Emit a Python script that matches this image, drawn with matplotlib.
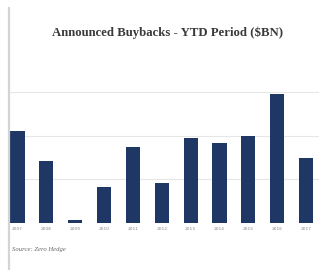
import matplotlib.pyplot as plt
from matplotlib.lines import Line2D

# =====================
# DATA
# =====================
years = ["2007", "2008", "2009", "2010", "2011", "2012",
         "2013", "2014", "2015", "2016", "2017"]
buybacks = [210, 142, 7, 82, 174, 92, 195, 183, 199, 295, 149]
title = "Announced Buybacks - YTD Period ($BN)"
source = "Source: Zero Hedge"

BAR_COLOR = "#1f3765"
GRID_COLOR = "#e6e6e6"

# =====================
# PLOT
# =====================
fig = plt.figure(figsize=(3.19, 2.70), dpi=100)
fig.patch.set_facecolor("white")

ax = fig.add_axes([10 / 319, 1 - 223 / 270, 309 / 319, 175 / 270])
x = range(len(years))
ax.bar(x, buybacks, width=0.49, color=BAR_COLOR, zorder=3)

ax.set_xlim(-0.26, 10.45)
ax.set_ylim(0, 400)
ax.set_yticks([100, 200, 300])
ax.yaxis.grid(True, color=GRID_COLOR, linewidth=0.8, zorder=0)
ax.tick_params(axis="y", left=False, labelleft=False)
ax.tick_params(axis="x", length=0, pad=3, labelsize=3.2, labelcolor="#8a8a8a")
ax.set_xticks(list(x))
ax.set_xticklabels(years)
for s in ax.spines.values():
    s.set_visible(False)

# title
fig.text(168 / 319, 1 - 33 / 270, title, ha="center", va="center",
         family="Liberation Serif", fontweight="bold", fontsize=9.2,
         color="#3a3a3a")

# source note
fig.text(12 / 319, 1 - 250 / 270, source, ha="left", va="center",
         family="Liberation Serif", style="italic", fontsize=4.8,
         color="#666666")

# left frame border
fig.add_artist(Line2D([8.5 / 319, 8.5 / 319], [0, 1 - 8 / 270],
                      transform=fig.transFigure, color="#d4d4d4",
                      linewidth=1.6))

fig.savefig("out.png", dpi=100, facecolor="white")
